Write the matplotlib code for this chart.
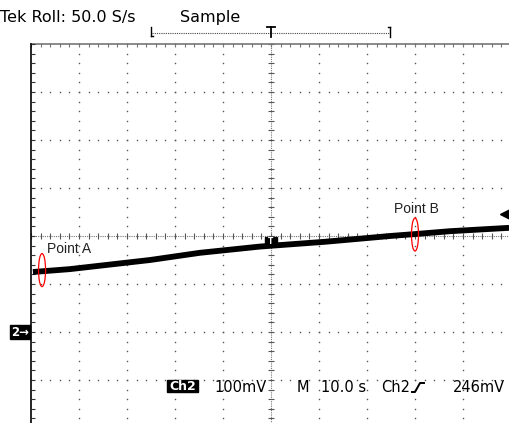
import matplotlib
matplotlib.use("Agg")
import matplotlib.pyplot as plt
from matplotlib.patches import Ellipse, Rectangle
import numpy as np

trace_t = [-49.6, -41.9, -25.2, -14.8, -2.3, 11.3, 24.8, 30.0, 37.3, 49.6]   # seconds
trace_mv = [125, 131, 150, 165, 178, 188, 200, 204, 210, 217]                # mV
point_labels = ["Point A", "Point B"]
point_t = [-47.7, 30.0]
point_mv = [129, 203]
trigger_level_mv = 246
ground_mv = 0
time_per_div = 10.0     # s/div
volts_per_div = 100.0   # mV/div
status_texts = ["100mV", "M", "10.0 s", "Ch2", "246mV"]

W, H = 509, 423
fig = plt.figure(figsize=(W / 100, H / 100), dpi=100)
fig.patch.set_facecolor("white")

# screen area: left 31px, width 480px, top 44px, height 384px
L, T, SW, SH = 31, 44, 480, 384
ax = fig.add_axes([L / W, 1 - (T + SH) / H, SW / W, SH / H])
ax.set_xlim(-5 * time_per_div, 5 * time_per_div)
ax.set_ylim(ground_mv - 2 * volts_per_div, ground_mv + 6 * volts_per_div)
ax.axis("off")

px_t = time_per_div / 48.0     # seconds per pixel
px_v = volts_per_div / 48.0    # mV per pixel
minor_t = np.arange(-50, 50.01, time_per_div / 5)
minor_v = np.arange(-200, 600.01, volts_per_div / 5)
center_v = 200

dot = dict(ls="none", marker="s", ms=1.0, mec="none", mfc="#555555")
# dotted major verticals
for t in np.arange(-40, 41, 10):
    if t == 0:
        continue
    ax.plot(np.full_like(minor_v, t), minor_v, **dot, clip_on=False)
# dotted major horizontals
for v in [500, 400, 300, 100, 0, -100]:
    ax.plot(minor_t, np.full_like(minor_t, v), **dot, clip_on=False)

# center cross lines with ticks
ax.plot([-50, 50], [center_v, center_v], color="#777777", lw=0.8, ls=(0, (1, 1)))
ax.plot(minor_t, np.full_like(minor_t, center_v), ls="none", marker="|", ms=4.5,
        mew=0.8, color="#555555")
ax.plot([0, 0], [-200, 600], color="#777777", lw=0.8, ls=(0, (1, 1)), clip_on=False)
ax.plot(np.zeros_like(minor_v), minor_v, ls="none", marker="_", ms=4.5,
        mew=0.8, color="#555555", clip_on=False)

# top border (gray) with ticks, left border (black) with ticks
ax.plot([-50, 50], [600, 600], color="#777777", lw=1.2, clip_on=False)
ax.plot(minor_t, np.full_like(minor_t, 600 - 1.5 * px_v), ls="none", marker="|",
        ms=2.2, mew=0.8, color="#777777", clip_on=False)
ax.plot([-50, -50], [-200, 600], color="black", lw=1.2, clip_on=False)
ax.plot(np.full_like(minor_v, -50 + 1.5 * px_t), minor_v, ls="none", marker="_",
        ms=2.2, mew=0.8, color="#333333", clip_on=False)

# trace
ax.plot(trace_t, trace_mv, color="black", lw=4.2, solid_capstyle="butt", zorder=5)

# point markers (red ellipses) and labels
for lab, t, v, dx, dy in zip(point_labels, point_t, point_mv, [1.0, -4.4], [36, 45]):
    ax.add_patch(Ellipse((t, v), 7 * px_t, 33 * px_v, fill=False,
                         edgecolor="red", lw=0.9, zorder=6))
    ax.text(t + dx, v + dy, lab, fontsize=10, family="Liberation Sans",
            ha="left", va="baseline", color="#222222", zorder=7)

# trigger level arrow on the right
ax.plot([48.8], [trigger_level_mv], marker="<", ms=6.5, color="black",
        ls="none", clip_on=False, zorder=7)

# ---- overlay in pixel coordinates for screen chrome ----
ov = fig.add_axes([0, 0, 1, 1], zorder=10)
ov.set_xlim(0, W)
ov.set_ylim(H, 0)
ov.axis("off")
ov.patch.set_alpha(0)

# trigger point marker on the trace
ov.add_patch(Rectangle((265, 237), 12, 8, color="black"))
ov.text(271, 241.5, "T", color="white", fontsize=5.5, fontweight="bold",
        ha="center", va="center", family="DejaVu Sans")

tfont = dict(family="DejaVu Sans", fontsize=11.5, va="baseline", color="black")
ov.text(0, 22, "Tek Roll: 50.0 S/s", **tfont)
ov.text(180, 22, "Sample", **tfont)

# trigger position bar
ov.plot([152, 390], [33, 33], color="#444444", lw=0.8, ls=(0, (1, 1)))
ov.plot([151, 151], [27, 36], color="black", lw=1.0)
ov.plot([151, 153], [36, 36], color="black", lw=1.0)
ov.plot([390, 390], [27, 37], color="black", lw=1.0)
ov.plot([388, 390], [27, 27], color="black", lw=1.0)
ov.plot([271, 271], [27, 37], color="black", lw=1.3)
ov.plot([267, 275], [27, 27], color="black", lw=1.3)

# ground marker "2->"
ov.add_patch(Rectangle((10, 325), 20, 14, color="black"))
ov.text(20, 332.5, "2\u2192", color="white", fontsize=8.5, fontweight="bold",
        ha="center", va="center", family="DejaVu Sans")

# status bar
ov.add_patch(Rectangle((167, 380), 31, 12, color="black"))
ov.text(182.5, 386.5, "Ch2", color="white", fontsize=9, fontweight="bold",
        ha="center", va="center", family="DejaVu Sans")
sfont = dict(family="DejaVu Sans", fontsize=10.5, va="baseline", color="black")
for s, x in zip(status_texts, [214, 297, 321, 381, 453]):
    ov.text(x, 392, s, **sfont)
ov.plot([412, 415, 420, 424], [392, 392, 383, 383], color="black", lw=1.4)

fig.savefig("out.png", dpi=100)
